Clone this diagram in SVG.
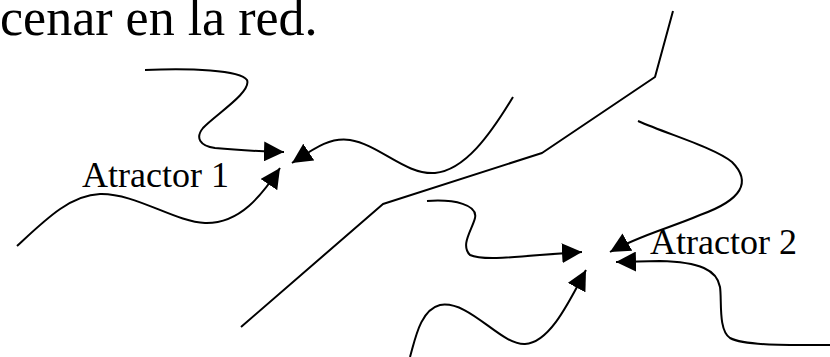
<svg xmlns="http://www.w3.org/2000/svg" width="830" height="357" viewBox="0 0 830 357">
<style>
.t{font-family:"Liberation Serif","Times New Roman",serif;fill:#000}
.c{fill:none;stroke:#000;stroke-width:2;stroke-linejoin:round}
</style>
<defs>
<marker id="ah" viewBox="0 0 20 20" refX="20" refY="10" markerWidth="20" markerHeight="20" markerUnits="userSpaceOnUse" orient="auto">
<path d="M0,0 L20,10 L0,20 z" fill="#000"/>
</marker>
</defs>
<rect width="830" height="357" fill="#fff"/>
<text class="t" x="0" y="35" font-size="52">cenar en la red.</text>
<g id="attractor1"><text class="t" x="82" y="187" font-size="36">Atractor 1</text></g>
<g id="attractor2"><text class="t" x="650" y="254" font-size="36">Atractor 2</text></g>
<g id="connectors">
<path class="c" d="M673,11 L655,77 L542,153 L383,204 L241,327"/>
<path class="c" marker-end="url(#ah)" d="M145,70 C190,68 240,70 247,80 C252,92 215,115 203,128 C195,138 200,146 215,148 C235,150 250,151 284,152"/>
<path class="c" marker-end="url(#ah)" d="M513,97 C490,135 465,170 435,173 C405,175 380,145 350,140 C330,137 315,148 292,163"/>
<path class="c" marker-end="url(#ah)" d="M17,246 C45,220 70,195 100,194 C135,193 175,222 205,223 C240,224 262,195 280,168"/>
<path class="c" marker-end="url(#ah)" d="M638,121 C670,135 715,148 732,162 C752,182 742,200 700,215 C670,228 640,235 610,252"/>
<path class="c" marker-end="url(#ah)" d="M427,201 C455,199 478,205 475,218 C472,230 460,245 470,255 C485,262 530,255 582,252"/>
<path class="c" marker-end="url(#ah)" d="M410,357 C415,340 420,310 440,305 C470,300 500,345 525,344 C550,343 570,300 586,270"/>
<path class="c" marker-end="url(#ah)" d="M830,345 C790,345 745,346 730,338 C718,330 722,300 720,287 C717,270 700,262 660,261 L616,262"/>
</g>
</svg>
